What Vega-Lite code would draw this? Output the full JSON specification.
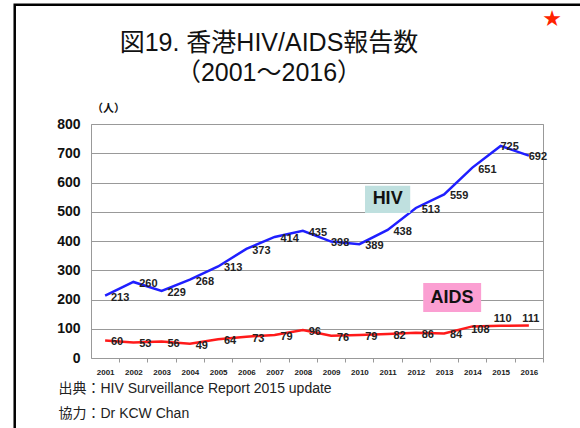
{
  "$schema": "https://vega.github.io/schema/vega-lite/v6.json",
  "autosize": {"type": "none"},
  "width": 452,
  "height": 234,
  "padding": {"left": 91, "top": 124, "right": 37, "bottom": 70},
  "background": "white",
  "config": {
    "view": {"stroke": "#999999", "strokeWidth": 1},
    "font": "Liberation Sans, Noto Sans CJK JP"
  },
  "title": {
    "text": ["図19. 香港HIV/AIDS報告数", "（2001～2016）"],
    "fontSize": 25,
    "fontWeight": "normal",
    "font": "Liberation Sans, Noto Sans CJK JP",
    "color": "#111111",
    "anchor": "middle",
    "frame": "group",
    "dx": -48,
    "offset": -83,
    "lineHeight": 30
  },
  "datasets": {
    "reports": [
      {"year": 2001, "series": "HIV", "value": 213},
      {"year": 2002, "series": "HIV", "value": 260},
      {"year": 2003, "series": "HIV", "value": 229},
      {"year": 2004, "series": "HIV", "value": 268},
      {"year": 2005, "series": "HIV", "value": 313},
      {"year": 2006, "series": "HIV", "value": 373},
      {"year": 2007, "series": "HIV", "value": 414},
      {"year": 2008, "series": "HIV", "value": 435},
      {"year": 2009, "series": "HIV", "value": 398},
      {"year": 2010, "series": "HIV", "value": 389},
      {"year": 2011, "series": "HIV", "value": 438},
      {"year": 2012, "series": "HIV", "value": 513},
      {"year": 2013, "series": "HIV", "value": 559},
      {"year": 2014, "series": "HIV", "value": 651},
      {"year": 2015, "series": "HIV", "value": 725},
      {"year": 2016, "series": "HIV", "value": 692},
      {"year": 2001, "series": "AIDS", "value": 60},
      {"year": 2002, "series": "AIDS", "value": 53},
      {"year": 2003, "series": "AIDS", "value": 56},
      {"year": 2004, "series": "AIDS", "value": 49},
      {"year": 2005, "series": "AIDS", "value": 64},
      {"year": 2006, "series": "AIDS", "value": 73},
      {"year": 2007, "series": "AIDS", "value": 79},
      {"year": 2008, "series": "AIDS", "value": 96},
      {"year": 2009, "series": "AIDS", "value": 76},
      {"year": 2010, "series": "AIDS", "value": 79},
      {"year": 2011, "series": "AIDS", "value": 82},
      {"year": 2012, "series": "AIDS", "value": 86},
      {"year": 2013, "series": "AIDS", "value": 84},
      {"year": 2014, "series": "AIDS", "value": 108},
      {"year": 2015, "series": "AIDS", "value": 110},
      {"year": 2016, "series": "AIDS", "value": 111}
    ],
    "boxes": [
      {"series": "HIV", "year": 2010.2, "yearEnd": 2011.8, "value": 496, "valueEnd": 589},
      {"series": "AIDS", "year": 2012.26, "yearEnd": 2014.31, "value": 157, "valueEnd": 256}
    ],
    "boxLabels": [
      {"series": "HIV", "year": 2011.0, "value": 542},
      {"series": "AIDS", "year": 2013.28, "value": 206}
    ],
    "frame": [{"year": 1997.8, "yearEnd": 2030, "value": -1000, "valueEnd": 1208}],
    "star": [{"year": 2016.82, "value": 1159, "mark": "★"}]
  },
  "encoding": {
    "x": {
      "field": "year", "type": "quantitative",
      "scale": {"domain": [2000.5, 2016.5], "nice": false, "zero": false},
      "axis": {
        "values": [2001, 2002, 2003, 2004, 2005, 2006, 2007, 2008, 2009, 2010, 2011, 2012, 2013, 2014, 2015, 2016],
        "format": "d",
        "grid": false,
        "domain": false,
        "tickOffset": 14,
        "labelOffset": -14,
        "tickSize": 4,
        "tickColor": "#999999",
        "labelOverlap": false,
        "labelFontSize": 8,
        "labelFontWeight": "bold",
        "labelColor": "#222222",
        "labelPadding": 6,
        "title": ["出典：HIV Surveillance Report 2015 update", "協力：Dr KCW Chan"],
        "titleFontSize": 14,
        "titleFontWeight": "normal",
        "titleColor": "#222222",
        "titleAlign": "left",
        "titleAnchor": "start",
        "titleX": -33,
        "titleY": 23,
        "titleBaseline": "top",
        "titleLineHeight": 25
      }
    },
    "y": {
      "field": "value", "type": "quantitative",
      "scale": {"domain": [0, 800], "nice": false},
      "axis": {
        "values": [0, 100, 200, 300, 400, 500, 600, 700, 800],
        "grid": true,
        "gridColor": "#999999",
        "gridWidth": 1,
        "domain": false,
        "ticks": false,
        "labelOverlap": false,
        "labelFontSize": 14,
        "labelFontWeight": "bold",
        "labelColor": "#111111",
        "labelPadding": 11,
        "title": "（人）",
        "titleAngle": 0,
        "titleFontSize": 11,
        "titleFontWeight": "bold",
        "titleColor": "#111111",
        "titleX": 17,
        "titleY": -16,
        "titleAlign": "center",
        "titleBaseline": "middle"
      }
    }
  },
  "layer": [
    {
      "data": {"name": "reports"},
      "mark": {"type": "line", "strokeWidth": 2.5},
      "encoding": {
        "color": {
          "field": "series", "type": "nominal",
          "scale": {"domain": ["HIV", "AIDS"], "range": ["#1f1fff", "#ff1a1a"]},
          "legend": null
        }
      }
    },
    {
      "data": {"name": "frame"},
      "mark": {"type": "rect", "fill": "white", "fillOpacity": 0, "stroke": "black", "strokeWidth": 2.5, "clip": false},
      "encoding": {
        "x2": {"field": "yearEnd"},
        "y2": {"field": "valueEnd"}
      }
    },
    {
      "data": {"name": "boxes"},
      "mark": {"type": "rect"},
      "encoding": {
        "x2": {"field": "yearEnd"},
        "y2": {"field": "valueEnd"},
        "fill": {
          "field": "series", "type": "nominal",
          "scale": {"domain": ["HIV", "AIDS"], "range": ["#bfe0df", "#fb9fd2"]},
          "legend": null
        }
      }
    },
    {
      "data": {"name": "boxLabels"},
      "mark": {"type": "text", "fontSize": 18, "fontWeight": "bold", "color": "#111111", "align": "center", "baseline": "middle", "font": "Liberation Sans"},
      "encoding": {
        "text": {"field": "series"}
      }
    },
    {
      "data": {"name": "reports"},
      "transform": [{"filter": "datum.series == 'HIV' && datum.year != 2009 && datum.year < 2015"}],
      "mark": {"type": "text", "fontSize": 11, "fontWeight": "bold", "color": "#222222", "align": "center", "baseline": "middle", "dx": 15, "dy": 2, "font": "Liberation Sans"},
      "encoding": {
        "text": {"field": "value"}
      }
    },
    {
      "data": {"name": "reports"},
      "transform": [{"filter": "datum.series == 'HIV' && (datum.year == 2009 || datum.year >= 2015)"}],
      "mark": {"type": "text", "fontSize": 11, "fontWeight": "bold", "color": "#222222", "align": "center", "baseline": "middle", "dx": 9, "dy": 1, "font": "Liberation Sans"},
      "encoding": {
        "text": {"field": "value"}
      }
    },
    {
      "data": {"name": "reports"},
      "transform": [{"filter": "datum.series == 'AIDS' && datum.year < 2014"}],
      "mark": {"type": "text", "fontSize": 11, "fontWeight": "bold", "color": "#222222", "align": "center", "baseline": "middle", "dx": 12, "dy": 2, "font": "Liberation Sans"},
      "encoding": {
        "text": {"field": "value"}
      }
    },
    {
      "data": {"name": "reports"},
      "transform": [{"filter": "datum.series == 'AIDS' && datum.year == 2014"}],
      "mark": {"type": "text", "fontSize": 11, "fontWeight": "bold", "color": "#222222", "align": "center", "baseline": "middle", "dx": 8, "dy": 4, "font": "Liberation Sans"},
      "encoding": {
        "text": {"field": "value"}
      }
    },
    {
      "data": {"name": "reports"},
      "transform": [{"filter": "datum.series == 'AIDS' && datum.year >= 2015"}],
      "mark": {"type": "text", "fontSize": 11, "fontWeight": "bold", "color": "#222222", "align": "center", "baseline": "middle", "dx": 2, "dy": -7, "font": "Liberation Sans"},
      "encoding": {
        "text": {"field": "value"}
      }
    },
    {
      "data": {"name": "star"},
      "mark": {"type": "text", "fontSize": 22, "color": "#ff2200", "align": "center", "baseline": "middle", "font": "DejaVu Sans"},
      "encoding": {
        "text": {"field": "mark"}
      }
    }
  ]
}
